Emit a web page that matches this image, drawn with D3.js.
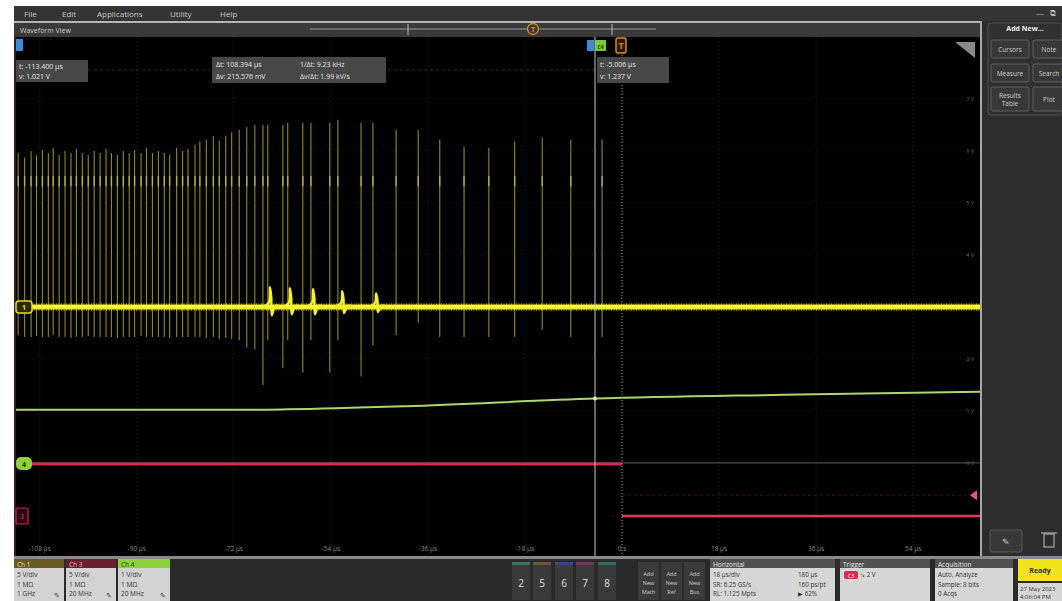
<!DOCTYPE html>
<html><head><meta charset="utf-8">
<script src="https://cdn.jsdelivr.net/npm/d3@7"></script>
<style>body{margin:0;background:#fff;overflow:hidden}svg{display:block;font-family:"Open Sans","Liberation Sans",sans-serif}</style>
</head><body><svg id="c" width="1062" height="601"></svg>
<script>
// ---------------- data ----------------
const timeTicks = [-108, -90, -72, -54, -36, -18, 0, 18, 36, 54];
const timeTickLabels = ["-108 µs", "-90 µs", "-72 µs", "-54 µs", "-36 µs", "-18 µs", "0 s", "18 µs", "36 µs", "54 µs"];
const ch4Ticks = [7, 6, 5, 4, 3, 2, 1, 0];
const ch4TickLabels = ["7 V", "6 V", "5 V", "4 V", "3 V", "2 V", "1 V", "0 V"];

// Ch 1 (yellow) ringing spikes: time (µs), peak high (V), peak low (V)
const ch1SpikeTime = [-112.0, -110.8, -109.6, -108.6, -107.5, -106.4, -105.5, -104.4, -103.3, -102.2,
  -101.2, -100.1, -99.0, -97.9, -96.8, -95.7, -94.7, -93.6, -92.5, -91.4,
  -90.4, -89.2, -88.2, -87.1, -86.0, -84.9, -83.9, -82.6, -81.5, -80.5,
  -79.2, -78.3, -77.1, -75.8, -74.7, -73.5, -72.4, -71.0, -69.6, -68.1,
  -66.6, -65.7, -62.9, -62.0, -59.2, -57.7, -54.2, -52.7, -48.4, -46.2,
  -41.9, -37.8, -33.8, -29.3, -24.7, -19.9, -14.8, -9.5, -3.7];
const ch1SpikeHigh = [14.8, 14.4, 15.0, 14.6, 15.1, 14.8, 15.3, 14.6, 15.0, 14.8,
  15.2, 14.8, 14.6, 15.0, 14.8, 15.2, 14.8, 14.6, 15.0, 14.8,
  15.1, 14.8, 15.3, 14.8, 15.0, 14.8, 14.6, 15.3, 15.0, 15.2,
  15.6, 15.9, 16.1, 16.4, 16.0, 16.4, 16.8, 17.0, 17.3, 17.5,
  17.5, 17.5, 17.5, 17.7, 17.7, 17.7, 17.7, 18.0, 17.7, 17.7,
  17.0, 17.0, 16.1, 15.4, 15.3, 15.9, 16.3, 16.1, 16.1];
const ch1SpikeLow = [-2.7, -2.9, -2.9, -2.8, -2.9, -2.9, -2.7, -2.9, -2.9, -3.0,
  -2.9, -2.9, -2.8, -2.9, -2.9, -2.9, -2.9, -3.0, -2.9, -2.9,
  -2.9, -2.8, -2.9, -2.9, -2.9, -2.9, -3.0, -2.9, -2.9, -2.9,
  -2.9, -2.9, -3.0, -2.9, -3.1, -3.0, -3.1, -3.2, -3.9, -4.1,
  -7.5, -3.2, -5.9, -3.2, -6.3, -3.2, -6.3, -3.2, -6.7, -3.7,
  -2.7, -1.5, -2.9, -2.9, -2.9, -2.9, -2.2, -2.9, -2.9];
// Ch 1 baseline glitches
const ch1GlitchTime = [-65.3, -61.6, -57.3, -51.9, -45.6];
const ch1GlitchHigh = [1.9, 1.8, 1.7, 1.5, 1.3];
const ch1GlitchLow = [-0.8, -0.7, -0.7, -0.6, -0.5];
const ch1TimeSpan = [-112.4, 66.4];

// Ch 4 (green) slow ramp
const ch4Time = [-112.4, -70, -62, -40, -5.006, 30, 66.4];
const ch4Volts = [1.021, 1.021, 1.03, 1.09, 1.237, 1.31, 1.37];

// Ch 3 (red) step
const ch3Time = [-109.6, 0, 0, 66.4];
const ch3Volts = [5, 5, 0, 0];
const triggerLevel = 2;

// cursors
const cursorTime = [-113.4, -5.006];

// ---------------- layout helpers ----------------
const svg = d3.select("#c");
const PL = 16, PR = 980, PT = 37, PB = 556;
const x = d3.scaleLinear().domain([-112.4, 66.4]).range([PL, PR]);
const gy = d3.scaleLinear().domain([-5, 5]).range([PB, 36]); // divisions
const ch1Pos = -0.21, ch1Scale = 5;
const ch4Pos = -3.21, ch4Scale = 1;
const ch3Pos = -4.23, ch3Scale = 5;
const y1 = v => gy(v / ch1Scale + ch1Pos);
const y4 = v => gy(v / ch4Scale + ch4Pos);
const y3 = v => gy(v / ch3Scale + ch3Pos);

function txt(g, X, Y, s, o = {}) {
  return g.append("text").attr("x", X).attr("y", Y).text(s)
    .attr("font-size", o.size || 7.5).attr("fill", o.fill || "#ddd")
    .attr("text-anchor", o.anchor || "start").attr("font-weight", o.weight || "normal");
}

// ---------------- app chrome ----------------
svg.append("rect").attr("x", 14).attr("y", 6).attr("width", 1048).attr("height", 595).attr("fill", "#2b2b2b");
svg.append("rect").attr("x", 14).attr("y", 6).attr("width", 1048).attr("height", 15).attr("fill", "#343434");
const menu = svg.append("g");
[["File", 24], ["Edit", 62], ["Applications", 97], ["Utility", 170], ["Help", 220]].forEach(([s, X]) => txt(menu, X, 17, s, {size: 8, fill: "#c8c8c8"}));
txt(menu, 1036, 16, "—", {size: 8, fill: "#bbb"});
txt(menu, 1050, 16, "⧉", {size: 8, fill: "#bbb"});

// waveform view header
svg.append("rect").attr("x", 14).attr("y", 21).attr("width", 967).attr("height", 2).attr("fill", "#b5b5b5");
svg.append("rect").attr("x", 14).attr("y", 23).attr("width", 966).attr("height", 14).attr("fill", "#3a3a3a");
txt(svg, 20, 33, "Waveform View", {size: 7, fill: "#cfcfcf"});
svg.append("line").attr("x1", 310).attr("x2", 656).attr("y1", 29).attr("y2", 29).attr("stroke", "#9a9a9a").attr("stroke-width", 1.2);
[408, 612].forEach(X => svg.append("line").attr("x1", X).attr("x2", X).attr("y1", 24).attr("y2", 35).attr("stroke", "#bbb"));
svg.append("circle").attr("cx", 533).attr("cy", 29).attr("r", 5.5).attr("fill", "#3a3a3a").attr("stroke", "#e08a1a").attr("stroke-width", 1.3);
txt(svg, 533, 32, "T", {size: 7, fill: "#e08a1a", anchor: "middle", weight: "bold"});

// plot area
svg.append("rect").attr("x", PL).attr("y", PT).attr("width", PR - PL).attr("height", PB - PT).attr("fill", "#000");
svg.append("line").attr("x1", 15).attr("x2", 15).attr("y1", PT).attr("y2", PB).attr("stroke", "#3a1a14").attr("stroke-width", 2);
svg.append("line").attr("x1", PR + 1).attr("x2", PR + 1).attr("y1", 21).attr("y2", PB).attr("stroke", "#a8a8a8").attr("stroke-width", 2);

// graticule (faint)
const grid = svg.append("g");
timeTicks.forEach(t => grid.append("line").attr("x1", x(t)).attr("x2", x(t)).attr("y1", PT).attr("y2", PB)
  .attr("stroke", "#262626").attr("stroke-dasharray", "1,3"));
ch4Ticks.forEach(v => grid.append("line").attr("x1", PL).attr("x2", PR).attr("y1", y4(v)).attr("y2", y4(v))
  .attr("stroke", "#1c1c1c").attr("stroke-dasharray", "1,3"));

// axis labels
const xl = svg.append("g");
timeTicks.forEach((t, i) => txt(xl, x(t), 551, timeTickLabels[i], {size: 6.5, fill: "#8a8a8a", anchor: "middle"}));
const yl = svg.append("g");
ch4Ticks.forEach((v, i) => txt(yl, PR - 6, y4(v) + 2, ch4TickLabels[i], {size: 5.5, fill: "#6a6a6a", anchor: "end"}));

// cursor horizontal faint red dashed line
svg.append("line").attr("x1", PL).attr("x2", x(cursorTime[1])).attr("y1", 70).attr("y2", 70)
  .attr("stroke", "#5a1818").attr("stroke-dasharray", "3,3").attr("stroke-width", 1);

// trigger level faint line + ch4 ground line
svg.append("line").attr("x1", x(0)).attr("x2", PR - 8).attr("y1", y3(triggerLevel)).attr("y2", y3(triggerLevel))
  .attr("stroke", "#4a1222").attr("stroke-dasharray", "3,3");
svg.append("line").attr("x1", PL).attr("x2", PR).attr("y1", y4(0)).attr("y2", y4(0)).attr("stroke", "#5a5a5a").attr("stroke-width", 1);

// ---------------- Ch 1 ----------------
const c1 = svg.append("g");
ch1SpikeTime.forEach((t, i) => {
  c1.append("line").attr("x1", x(t)).attr("x2", x(t)).attr("y1", y1(ch1SpikeHigh[i])).attr("y2", y1(ch1SpikeLow[i]))
    .attr("stroke", "#aaa236").attr("stroke-width", 1.1).attr("opacity", 0.85);
  c1.append("line").attr("x1", x(t)).attr("x2", x(t)).attr("y1", y1(12.6)).attr("y2", y1(11.6))
    .attr("stroke", "#d8d270").attr("stroke-width", 1.6).attr("opacity", 0.6);
});
// baseline band
c1.append("line").attr("x1", x(ch1TimeSpan[0])).attr("x2", x(ch1TimeSpan[1])).attr("y1", y1(0)).attr("y2", y1(0))
  .attr("stroke", "#d8d81a").attr("stroke-width", 8).attr("stroke-dasharray", "1,1.5").attr("opacity", 0.55);
c1.append("line").attr("x1", x(ch1TimeSpan[0])).attr("x2", x(ch1TimeSpan[1])).attr("y1", y1(0)).attr("y2", y1(0))
  .attr("stroke", "#f0f020").attr("stroke-width", 5);
c1.append("line").attr("x1", x(ch1TimeSpan[0])).attr("x2", x(ch1TimeSpan[1])).attr("y1", y1(0.1)).attr("y2", y1(0.1))
  .attr("stroke", "#ffff55").attr("stroke-width", 1.5);
// glitches
const gl = d3.line().x(d => x(d[0])).y(d => y1(d[1])).curve(d3.curveCatmullRom);
ch1GlitchTime.forEach((t, i) => {
  const pts = [[t - 1.2, 0], [t - 0.2, 0.4], [t, ch1GlitchHigh[i]], [t + 0.25, ch1GlitchHigh[i] * 0.5], [t + 0.35, ch1GlitchLow[i]], [t + 1.0, 0.1], [t + 2.0, 0]];
  c1.append("path").attr("d", gl(pts)).attr("fill", "none").attr("stroke", "#f4f030").attr("stroke-width", 2.4);
});

// ---------------- Ch 4 ----------------
const ch4Line = d3.line().x(d => x(d[0])).y(d => y4(d[1])).curve(d3.curveMonotoneX);
svg.append("path").attr("d", ch4Line(ch4Time.map((t, i) => [t, ch4Volts[i]])))
  .attr("fill", "none").attr("stroke", "#acd670").attr("stroke-width", 2);

// ---------------- Ch 3 ----------------
const ch3Line = d3.line().x(d => x(d[0])).y(d => y3(d[1]));
const ch3Data = ch3Time.map((t, i) => [t, ch3Volts[i]]);
svg.append("path").attr("d", ch3Line(ch3Data.slice(0, 2))).attr("fill", "none").attr("stroke", "#d8284f").attr("stroke-width", 3);
svg.append("path").attr("d", ch3Line(ch3Data.slice(2))).attr("fill", "none").attr("stroke", "#e8345c").attr("stroke-width", 2.5);

// ---------------- cursors / trigger ----------------
svg.append("line").attr("x1", x(0)).attr("x2", x(0)).attr("y1", PT).attr("y2", PB)
  .attr("stroke", "#9a9a9a").attr("stroke-dasharray", "1,2");
svg.append("line").attr("x1", x(cursorTime[1])).attr("x2", x(cursorTime[1])).attr("y1", PT).attr("y2", PB)
  .attr("stroke", "#c8c8c8").attr("stroke-width", 1);
svg.append("circle").attr("cx", x(cursorTime[1])).attr("cy", y4(1.237)).attr("r", 2).attr("fill", "#ddd");

// top markers
svg.append("rect").attr("x", 16).attr("y", 39).attr("width", 7).attr("height", 12).attr("fill", "#3d8ad6");
svg.append("rect").attr("x", 587).attr("y", 40).attr("width", 7).attr("height", 11).attr("fill", "#3d8ad6");
svg.append("rect").attr("x", 595).attr("y", 40).attr("width", 11).attr("height", 11).attr("fill", "#7ec63a");
txt(svg, 600.5, 48.5, "C4", {size: 5, fill: "#1a3a0a", anchor: "middle", weight: "bold"});
svg.append("rect").attr("x", 616).attr("y", 38).attr("width", 10).attr("height", 15).attr("rx", 2).attr("fill", "#2a1800").attr("stroke", "#e08a1a").attr("stroke-width", 1.5);
txt(svg, 621, 49, "T", {size: 8, fill: "#e08a1a", anchor: "middle", weight: "bold"});
svg.append("polygon").attr("points", "955,42 975,42 975,58").attr("fill", "#8a8a8a");

// readouts
function box(X, Y, W, H, lines) {
  const g = svg.append("g");
  g.append("rect").attr("x", X).attr("y", Y).attr("width", W).attr("height", H).attr("fill", "#4e4e4e").attr("opacity", 0.92);
  lines.forEach(([s, dx, dy]) => txt(g, X + dx, Y + dy, s, {size: 7, fill: "#e6e6e6"}));
}
box(16, 60, 72, 22, [["t: -113.400 µs", 3, 9], ["v: 1.021 V", 3, 19]]);
box(212, 57, 174, 26, [["Δt: 108.394 µs", 4, 10], ["1/Δt: 9.23 kHz", 88, 10], ["Δv: 215.576 mV", 4, 22], ["Δv/Δt: 1.99 kV/s", 88, 22]]);
box(597, 57, 72, 26, [["t: -5.006 µs", 3, 10], ["v: 1.237 V", 3, 22]]);

// channel badges on left
svg.append("rect").attr("x", 16).attr("y", 301).attr("width", 16).attr("height", 12).attr("rx", 3).attr("fill", "#2a2a00").attr("stroke", "#e4e020").attr("stroke-width", 1.5);
txt(svg, 24, 310, "1", {size: 7, fill: "#e4e020", anchor: "middle", weight: "bold"});
svg.append("rect").attr("x", 16).attr("y", 457).attr("width", 16).attr("height", 13).attr("rx", 5).attr("fill", "#8ed13f");
txt(svg, 24, 466.5, "4", {size: 7, fill: "#1a3a0a", anchor: "middle", weight: "bold"});
svg.append("rect").attr("x", 16).attr("y", 508).attr("width", 12).attr("height", 16).attr("rx", 2).attr("fill", "#2a0810").attr("stroke", "#c8284f").attr("stroke-width", 1.2);
txt(svg, 22, 519, "3", {size: 7, fill: "#e8345c", anchor: "middle"});
// trigger level arrow
svg.append("polygon").attr("points", `${PR - 10},${y3(triggerLevel)} ${PR - 3},${y3(triggerLevel) - 5} ${PR - 3},${y3(triggerLevel) + 5}`).attr("fill", "#ff4d7a");
// right handle
[285, 289, 293].forEach(Y => svg.append("line").attr("x1", 983).attr("x2", 988).attr("y1", Y).attr("y2", Y).attr("stroke", "#999"));

// ---------------- right panel ----------------
const rp = svg.append("g");
rp.append("rect").attr("x", 983).attr("y", 21).attr("width", 79).attr("height", 535).attr("fill", "#2d2d2d");
rp.append("rect").attr("x", 988).attr("y", 23).attr("width", 74).attr("height", 92).attr("rx", 3).attr("fill", "#303030").attr("stroke", "#505050");
txt(rp, 1025, 31, "Add New...", {size: 7, fill: "#eee", anchor: "middle", weight: "bold"});
[[991, 40, 38, 18, ["Cursors"]], [1033, 40, 32, 18, ["Note"]], [991, 64, 38, 18, ["Measure"]], [1033, 64, 32, 18, ["Search"]],
 [991, 87, 38, 24, ["Results", "Table"]], [1033, 87, 32, 24, ["Plot"]]].forEach(([X, Y, W, H, ls]) => {
  rp.append("rect").attr("x", X).attr("y", Y).attr("width", W).attr("height", H).attr("rx", 2).attr("fill", "#383838").attr("stroke", "#5e5e5e");
  ls.forEach((s, i) => txt(rp, X + W / 2, Y + H / 2 + 2.5 + (i - (ls.length - 1) / 2) * 8, s, {size: 6.5, fill: "#cfcfcf", anchor: "middle"}));
});
rp.append("rect").attr("x", 990).attr("y", 530).attr("width", 32).attr("height", 22).attr("rx", 2).attr("fill", "#383838").attr("stroke", "#5a5a5a");
txt(rp, 1006, 545, "✎", {size: 9, fill: "#ccc", anchor: "middle"});
rp.append("rect").attr("x", 1044).attr("y", 534).attr("width", 10).attr("height", 13).attr("fill", "none").attr("stroke", "#aaa").attr("stroke-width", 1.2);
rp.append("line").attr("x1", 1041).attr("x2", 1057).attr("y1", 533).attr("y2", 533).attr("stroke", "#aaa").attr("stroke-width", 1.2);

// ---------------- bottom bar ----------------
const bb = svg.append("g");
bb.append("rect").attr("x", 14).attr("y", 556).attr("width", 1048).attr("height", 3).attr("fill", "#8a8a8a");
bb.append("rect").attr("x", 14).attr("y", 559).attr("width", 1048).attr("height", 42).attr("fill", "#2a2a2a");
function chBadge(X, W, head, headFill, headText, lines) {
  bb.append("rect").attr("x", X).attr("y", 559).attr("width", W).attr("height", 9).attr("fill", headFill);
  txt(bb, X + 3, 566.5, head, {size: 6.5, fill: headText});
  bb.append("rect").attr("x", X).attr("y", 568).attr("width", W).attr("height", 33).attr("fill", "#d2d2d2");
  lines.forEach((s, i) => txt(bb, X + 3, 577 + i * 9.5, s, {size: 6.5, fill: "#333"}));
  txt(bb, X + W - 4, 598, "✎", {size: 7, fill: "#333", anchor: "end"});
}
chBadge(14, 50, "Ch 1", "#6a5a22", "#e8e0a0", ["5 V/div", "1 MΩ", "1 GHz"]);
chBadge(66, 50, "Ch 3", "#6a1e2c", "#f0b0c0", ["5 V/div", "1 MΩ", "20 MHz"]);
chBadge(118, 52, "Ch 4", "#8ed13f", "#1a3a0a", ["1 V/div", "1 MΩ", "20 MHz"]);

[["2", 512, "#3a7a5a"], ["5", 533, "#6e5630"], ["6", 555, "#3a4680"], ["7", 576, "#6e3a62"], ["8", 598, "#2a6e62"]].forEach(([s, X, c]) => {
  bb.append("rect").attr("x", X).attr("y", 562).attr("width", 18).attr("height", 38).attr("fill", "#3a3a3a");
  bb.append("rect").attr("x", X).attr("y", 562).attr("width", 18).attr("height", 3).attr("fill", c);
  txt(bb, X + 9, 587, s, {size: 10, fill: "#e0e0e0", anchor: "middle"});
});
[["Math", 638], ["Ref", 661], ["Bus", 684]].forEach(([s, X]) => {
  bb.append("rect").attr("x", X).attr("y", 562).attr("width", 21).attr("height", 38).attr("fill", "#3a3a3a");
  ["Add", "New", s].forEach((l, i) => txt(bb, X + 10.5, 576 + i * 9, l, {size: 5.5, fill: "#cfcfcf", anchor: "middle"}));
});
function panel(X, W, head, lines) {
  bb.append("rect").attr("x", X).attr("y", 559).attr("width", W).attr("height", 9).attr("fill", "#505050");
  txt(bb, X + 3, 566.5, head, {size: 6.5, fill: "#e8e8e8"});
  bb.append("rect").attr("x", X).attr("y", 568).attr("width", W).attr("height", 33).attr("fill", "#d6d6d6");
  lines.forEach(([s, dx, i]) => txt(bb, X + dx, 577 + i * 9.5, s, {size: 6.3, fill: "#333"}));
}
panel(710, 125, "Horizontal", [["18 µs/div", 3, 0], ["180 µs", 88, 0], ["SR: 6.25 GS/s", 3, 1], ["160 ps/pt", 88, 1], ["RL: 1.125 Mpts", 3, 2], ["▶ 62%", 88, 2]]);
panel(840, 90, "Trigger", [["↘  2 V", 20, 0]]);
bb.append("rect").attr("x", 844).attr("y", 571).attr("width", 14).attr("height", 8).attr("rx", 2).attr("fill", "#d8284f");
txt(bb, 851, 577.5, "C3", {size: 5.5, fill: "#fff", anchor: "middle"});
panel(935, 78, "Acquisition", [["Auto,   Analyze", 3, 0], ["Sample: 8 bits", 3, 1], ["0 Acqs", 3, 2]]);
bb.append("rect").attr("x", 1018).attr("y", 559).attr("width", 44).attr("height", 22).attr("fill", "#f2e21a");
txt(bb, 1040, 573, "Ready", {size: 7, fill: "#333", anchor: "middle", weight: "bold"});
bb.append("rect").attr("x", 1018).attr("y", 583).attr("width", 44).attr("height", 18).attr("fill", "#d6d6d6");
txt(bb, 1020, 591, "27 May 2023", {size: 6, fill: "#333"});
txt(bb, 1020, 599, "4:06:04 PM", {size: 6, fill: "#333"});
</script>
</body></html>
